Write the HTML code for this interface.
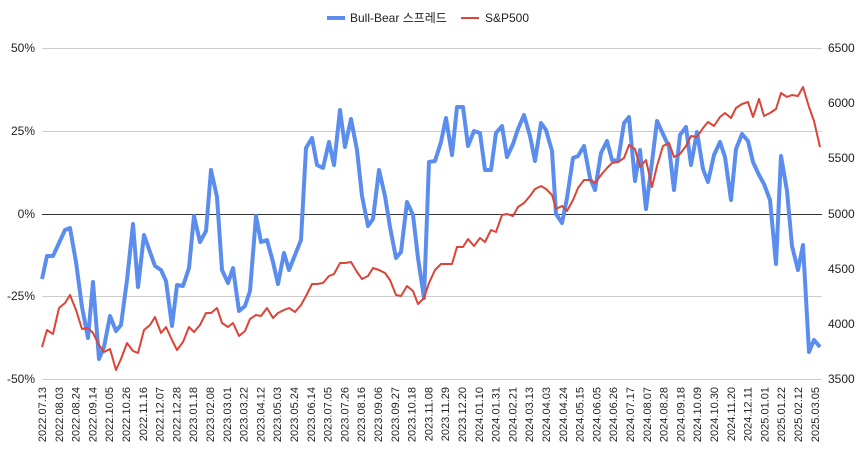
<!DOCTYPE html>
<html><head><meta charset="utf-8"><style>
html,body{margin:0;padding:0;background:#fff;}
svg{display:block;font-family:"Liberation Sans","Noto Sans CJK KR",sans-serif;}
</style></head><body>
<svg width="868" height="458" viewBox="0 0 868 458" xmlns="http://www.w3.org/2000/svg">
<g stroke="#ccc" stroke-width="1">
<line x1="42" y1="48.5" x2="822" y2="48.5"/>
<line x1="42" y1="131.5" x2="822" y2="131.5"/>
<line x1="42" y1="296.5" x2="822" y2="296.5"/>
<line x1="42" y1="379.5" x2="822" y2="379.5"/>
</g>
<line x1="42" y1="214.5" x2="822" y2="214.5" stroke="#333" stroke-width="1"/>
<g font-size="12" fill="#222" text-anchor="end">
<text x="35" y="52">50%</text><text x="35" y="135">25%</text><text x="35" y="218">0%</text><text x="35" y="300">-25%</text><text x="35" y="383">-50%</text>
</g>
<g font-size="12" fill="#222">
<text x="828" y="52">6500</text><text x="828" y="107">6000</text><text x="828" y="162">5500</text><text x="828" y="218">5000</text><text x="828" y="273">4500</text><text x="828" y="328">4000</text><text x="828" y="383">3500</text>
</g>
<polyline fill="none" stroke="#5B8DEF" stroke-width="4" stroke-linejoin="round" points="42,279 47,256 53,256 59,243 65,230 70,228 76,262 82,307 88,338 93,282 99,359 104,347 110,316 116,331 121,325 127,280 133,224 138,287 144,235 150,252 155,266 161,270 166,281 172,326 177,285 183,286 189,268 194,216 200,242 206,231 211,170 217,197 222,270 228,283 233,268 239,311 245,306 250,291 256,216 261,242 267,240 273,262 278,284 284,253 289,270 295,255 301,240 306,148 312,138 317,165 323,168 329,142 334,165 340,110 345,147 351,119 357,150 362,196 368,226 373,219 379,170 385,196 390,227 396,258 401,252 407,202 413,215 418,258 424,298 429,162 435,161 441,142 446,118 452,155 457,107 463,107 468,146 474,131 480,133 485,170 491,170 496,133 502,126 507,157 513,144 518,129 524,115 530,136 535,161 541,123 546,130 552,151 556,214 562,223 567,198 573,158 578,156 584,146 590,178 595,190 601,153 607,141 612,160 618,161 624,123 629,117 635,181 640,150 646,209 652,162 657,121 663,134 669,147 674,190 680,135 686,127 691,165 697,132 703,169 708,182 714,155 720,142 725,157 731,200 736,149 742,134 748,141 753,162 759,175 764,184 770,200 776,264 781,156 787,191 792,246 798,270 803,245 809,352 814,340 820,347"/>
<polyline fill="none" stroke="#DB4437" stroke-width="2" stroke-linejoin="round" points="42,347 47,330 53,334 59,308 65,303 70,295 76,310 82,329 88,328 93,333 99,345 104,352 110,349 116,370 121,359 127,343 133,351 138,353 144,330 150,325 155,317 161,333 166,327 172,340 177,350 183,342 189,327 194,332 200,325 206,313 211,313 217,308 222,323 228,327 233,323 239,336 245,331 250,319 256,315 261,316 267,308 273,318 278,313 284,310 289,308 295,312 301,305 306,296 312,284 317,284 323,283 329,276 334,274 340,263 345,263 351,262 357,272 362,279 368,276 373,268 379,270 385,273 390,280 396,295 401,296 407,286 413,291 418,304 424,298 429,283 435,270 441,264 446,264 452,264 457,247 463,247 468,239 474,246 480,238 485,242 491,230 496,232 502,215 507,214 513,216 518,207 524,203 530,196 535,189 541,186 546,189 552,195 556,209 562,206 567,211 573,200 578,188 584,180 590,180 595,183 601,175 607,168 612,163 618,162 624,158 629,145 635,149 640,167 646,160 652,187 657,166 663,146 669,143 674,157 680,154 686,146 691,136 697,137 703,128 708,122 714,126 720,117 725,113 731,118 736,108 742,104 748,102 753,117 759,99 764,116 770,113 776,109 781,93 787,97 792,95 798,96 803,87 809,107 814,121 820,147"/>
<line x1="327" y1="18" x2="345" y2="18" stroke="#5B8DEF" stroke-width="4"/>
<text x="350" y="22" font-size="12" fill="#222">Bull-Bear 스프레드</text>
<line x1="461" y1="18" x2="479" y2="18" stroke="#DB4437" stroke-width="2"/>
<text x="485" y="22" font-size="12" fill="#222">S&amp;P500</text>
<g font-size="11" fill="#222" text-anchor="end">
<text transform="translate(46.0,387) rotate(-90)">2022.07.13</text>
<text transform="translate(62.8,387) rotate(-90)">2022.08.03</text>
<text transform="translate(79.6,387) rotate(-90)">2022.08.24</text>
<text transform="translate(96.4,387) rotate(-90)">2022.09.14</text>
<text transform="translate(113.2,387) rotate(-90)">2022.10.05</text>
<text transform="translate(130.0,387) rotate(-90)">2022.10.26</text>
<text transform="translate(146.8,387) rotate(-90)">2022.11.16</text>
<text transform="translate(163.6,387) rotate(-90)">2022.12.07</text>
<text transform="translate(180.4,387) rotate(-90)">2022.12.28</text>
<text transform="translate(197.2,387) rotate(-90)">2023.01.18</text>
<text transform="translate(214.0,387) rotate(-90)">2023.02.08</text>
<text transform="translate(230.8,387) rotate(-90)">2023.03.01</text>
<text transform="translate(247.6,387) rotate(-90)">2023.03.22</text>
<text transform="translate(264.4,387) rotate(-90)">2023.04.12</text>
<text transform="translate(281.2,387) rotate(-90)">2023.05.03</text>
<text transform="translate(298.0,387) rotate(-90)">2023.05.24</text>
<text transform="translate(314.8,387) rotate(-90)">2023.06.14</text>
<text transform="translate(331.6,387) rotate(-90)">2023.07.05</text>
<text transform="translate(348.4,387) rotate(-90)">2023.07.26</text>
<text transform="translate(365.2,387) rotate(-90)">2023.08.16</text>
<text transform="translate(382.0,387) rotate(-90)">2023.09.06</text>
<text transform="translate(398.8,387) rotate(-90)">2023.09.27</text>
<text transform="translate(415.6,387) rotate(-90)">2023.10.18</text>
<text transform="translate(432.4,387) rotate(-90)">2023.11.08</text>
<text transform="translate(449.2,387) rotate(-90)">2023.11.29</text>
<text transform="translate(466.0,387) rotate(-90)">2023.12.20</text>
<text transform="translate(482.8,387) rotate(-90)">2024.01.10</text>
<text transform="translate(499.6,387) rotate(-90)">2024.01.31</text>
<text transform="translate(516.4,387) rotate(-90)">2024.02.21</text>
<text transform="translate(533.2,387) rotate(-90)">2024.03.13</text>
<text transform="translate(550.0,387) rotate(-90)">2024.04.03</text>
<text transform="translate(566.8,387) rotate(-90)">2024.04.24</text>
<text transform="translate(583.6,387) rotate(-90)">2024.05.15</text>
<text transform="translate(600.4,387) rotate(-90)">2024.06.05</text>
<text transform="translate(617.2,387) rotate(-90)">2024.06.26</text>
<text transform="translate(634.0,387) rotate(-90)">2024.07.17</text>
<text transform="translate(650.8,387) rotate(-90)">2024.08.07</text>
<text transform="translate(667.6,387) rotate(-90)">2024.08.28</text>
<text transform="translate(684.4,387) rotate(-90)">2024.09.18</text>
<text transform="translate(701.2,387) rotate(-90)">2024.10.09</text>
<text transform="translate(718.0,387) rotate(-90)">2024.10.30</text>
<text transform="translate(734.8,387) rotate(-90)">2024.11.20</text>
<text transform="translate(751.6,387) rotate(-90)">2024.12.11</text>
<text transform="translate(768.4,387) rotate(-90)">2025.01.01</text>
<text transform="translate(785.2,387) rotate(-90)">2025.01.22</text>
<text transform="translate(802.0,387) rotate(-90)">2025.02.12</text>
<text transform="translate(818.8,387) rotate(-90)">2025.03.05</text>
</g>
</svg>
</body></html>
